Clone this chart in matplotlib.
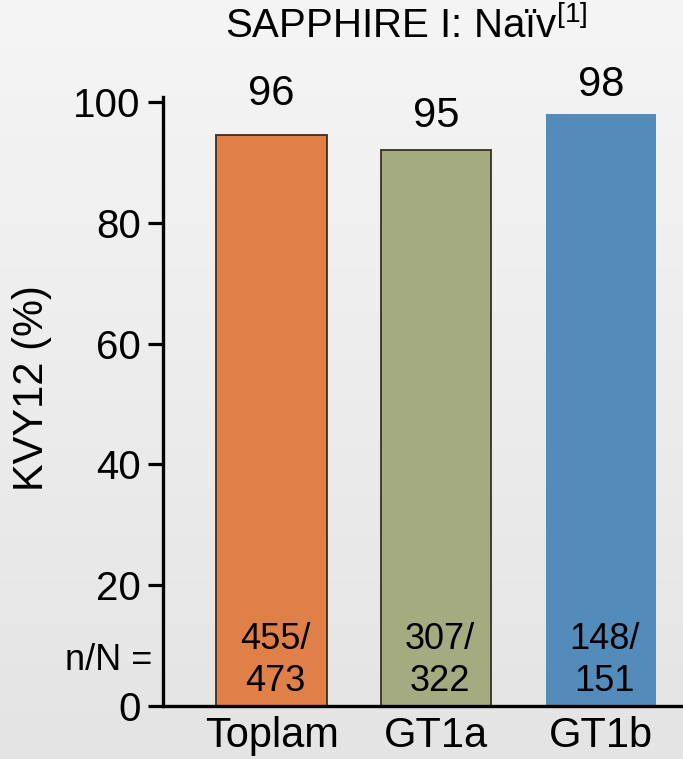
import numpy as np
import matplotlib
matplotlib.use("Agg")
import matplotlib.pyplot as plt
from matplotlib import transforms
from matplotlib.colors import LinearSegmentedColormap

plt.rcParams['font.family'] = ['Liberation Sans', 'DejaVu Sans']
plt.rcParams['mathtext.fontset'] = 'custom'
plt.rcParams['mathtext.rm'] = 'Liberation Sans'

categories = ["Toplam", "GT1a", "GT1b"]
bar_heights = [94.5, 92.0, 98.0]
value_labels = ["96", "95", "98"]
n_labels = ["455/\n473", "307/\n322", "148/\n151"]
colors = ["#df8048", "#a4ab80", "#538bba"]
edgecolors = ["#3a3020", "#3a3020", "none"]
label_gaps_pt = [22, 16.5, 13]
yticks = [0, 20, 40, 60, 80, 100]

fig = plt.figure(figsize=(6.83, 7.59), dpi=100)

# background gradient
bg = fig.add_axes([0, 0, 1, 1], zorder=-10)
grad = np.linspace(0, 1, 256).reshape(-1, 1)
cmap = LinearSegmentedColormap.from_list("bg", ["#f5f5f5", "#e4e4e4"])
bg.imshow(grad, aspect='auto', cmap=cmap, extent=[0, 1, 0, 1], origin='upper')
bg.axis('off')

ax = fig.add_axes([163/683, 1 - 706/759, 1 - 163/683, (706 - 97)/759])
ax.patch.set_alpha(0)
x = np.arange(len(categories))
ax.bar(x, bar_heights, width=0.67, color=colors, edgecolor=edgecolors, linewidth=1.3, zorder=3)

ax.set_xlim(-0.66, 2.5)
ax.set_ylim(0, 100.8)
ax.set_yticks(yticks)
ax.set_yticklabels([str(t) for t in yticks], fontsize=29)
ax.tick_params(axis='y', direction='out', length=11, width=2.3, pad=5)
ax.set_xticks(x)
ax.set_xticklabels(categories, fontsize=30)
ax.tick_params(axis='x', length=0, pad=7)
for s in ['top', 'right']:
    ax.spines[s].set_visible(False)
ax.spines['left'].set_linewidth(2.4)
ax.spines['bottom'].set_linewidth(2.4)
ax.spines['bottom'].set_zorder(5)

for xi, h, lab, g in zip(x, bar_heights, value_labels, label_gaps_pt):
    ax.annotate(lab, (xi, h), xytext=(0, g), textcoords='offset points',
                ha='center', va='baseline', fontsize=30)

for xi, lab in zip(x, n_labels):
    ax.text(xi + 0.02, 1.2, lab, ha='center', va='bottom', fontsize=26, linespacing=1.25, zorder=4)

trans = transforms.blended_transform_factory(ax.transAxes, ax.transData)
ax.text(-0.02, 7.6, "n/N =", transform=trans, ha='right', va='center', fontsize=26)

fig.text(32/683, 1 - 388/759, "KVY12 (%)", rotation=90, ha='center', va='center', fontsize=30)

fig.text(406/683, 1 - 26/759, r"SAPPHIRE I: Naïv$^{\mathrm{[1]}}$", ha='center', va='center', fontsize=29)

fig.savefig("out.png", dpi=100)
